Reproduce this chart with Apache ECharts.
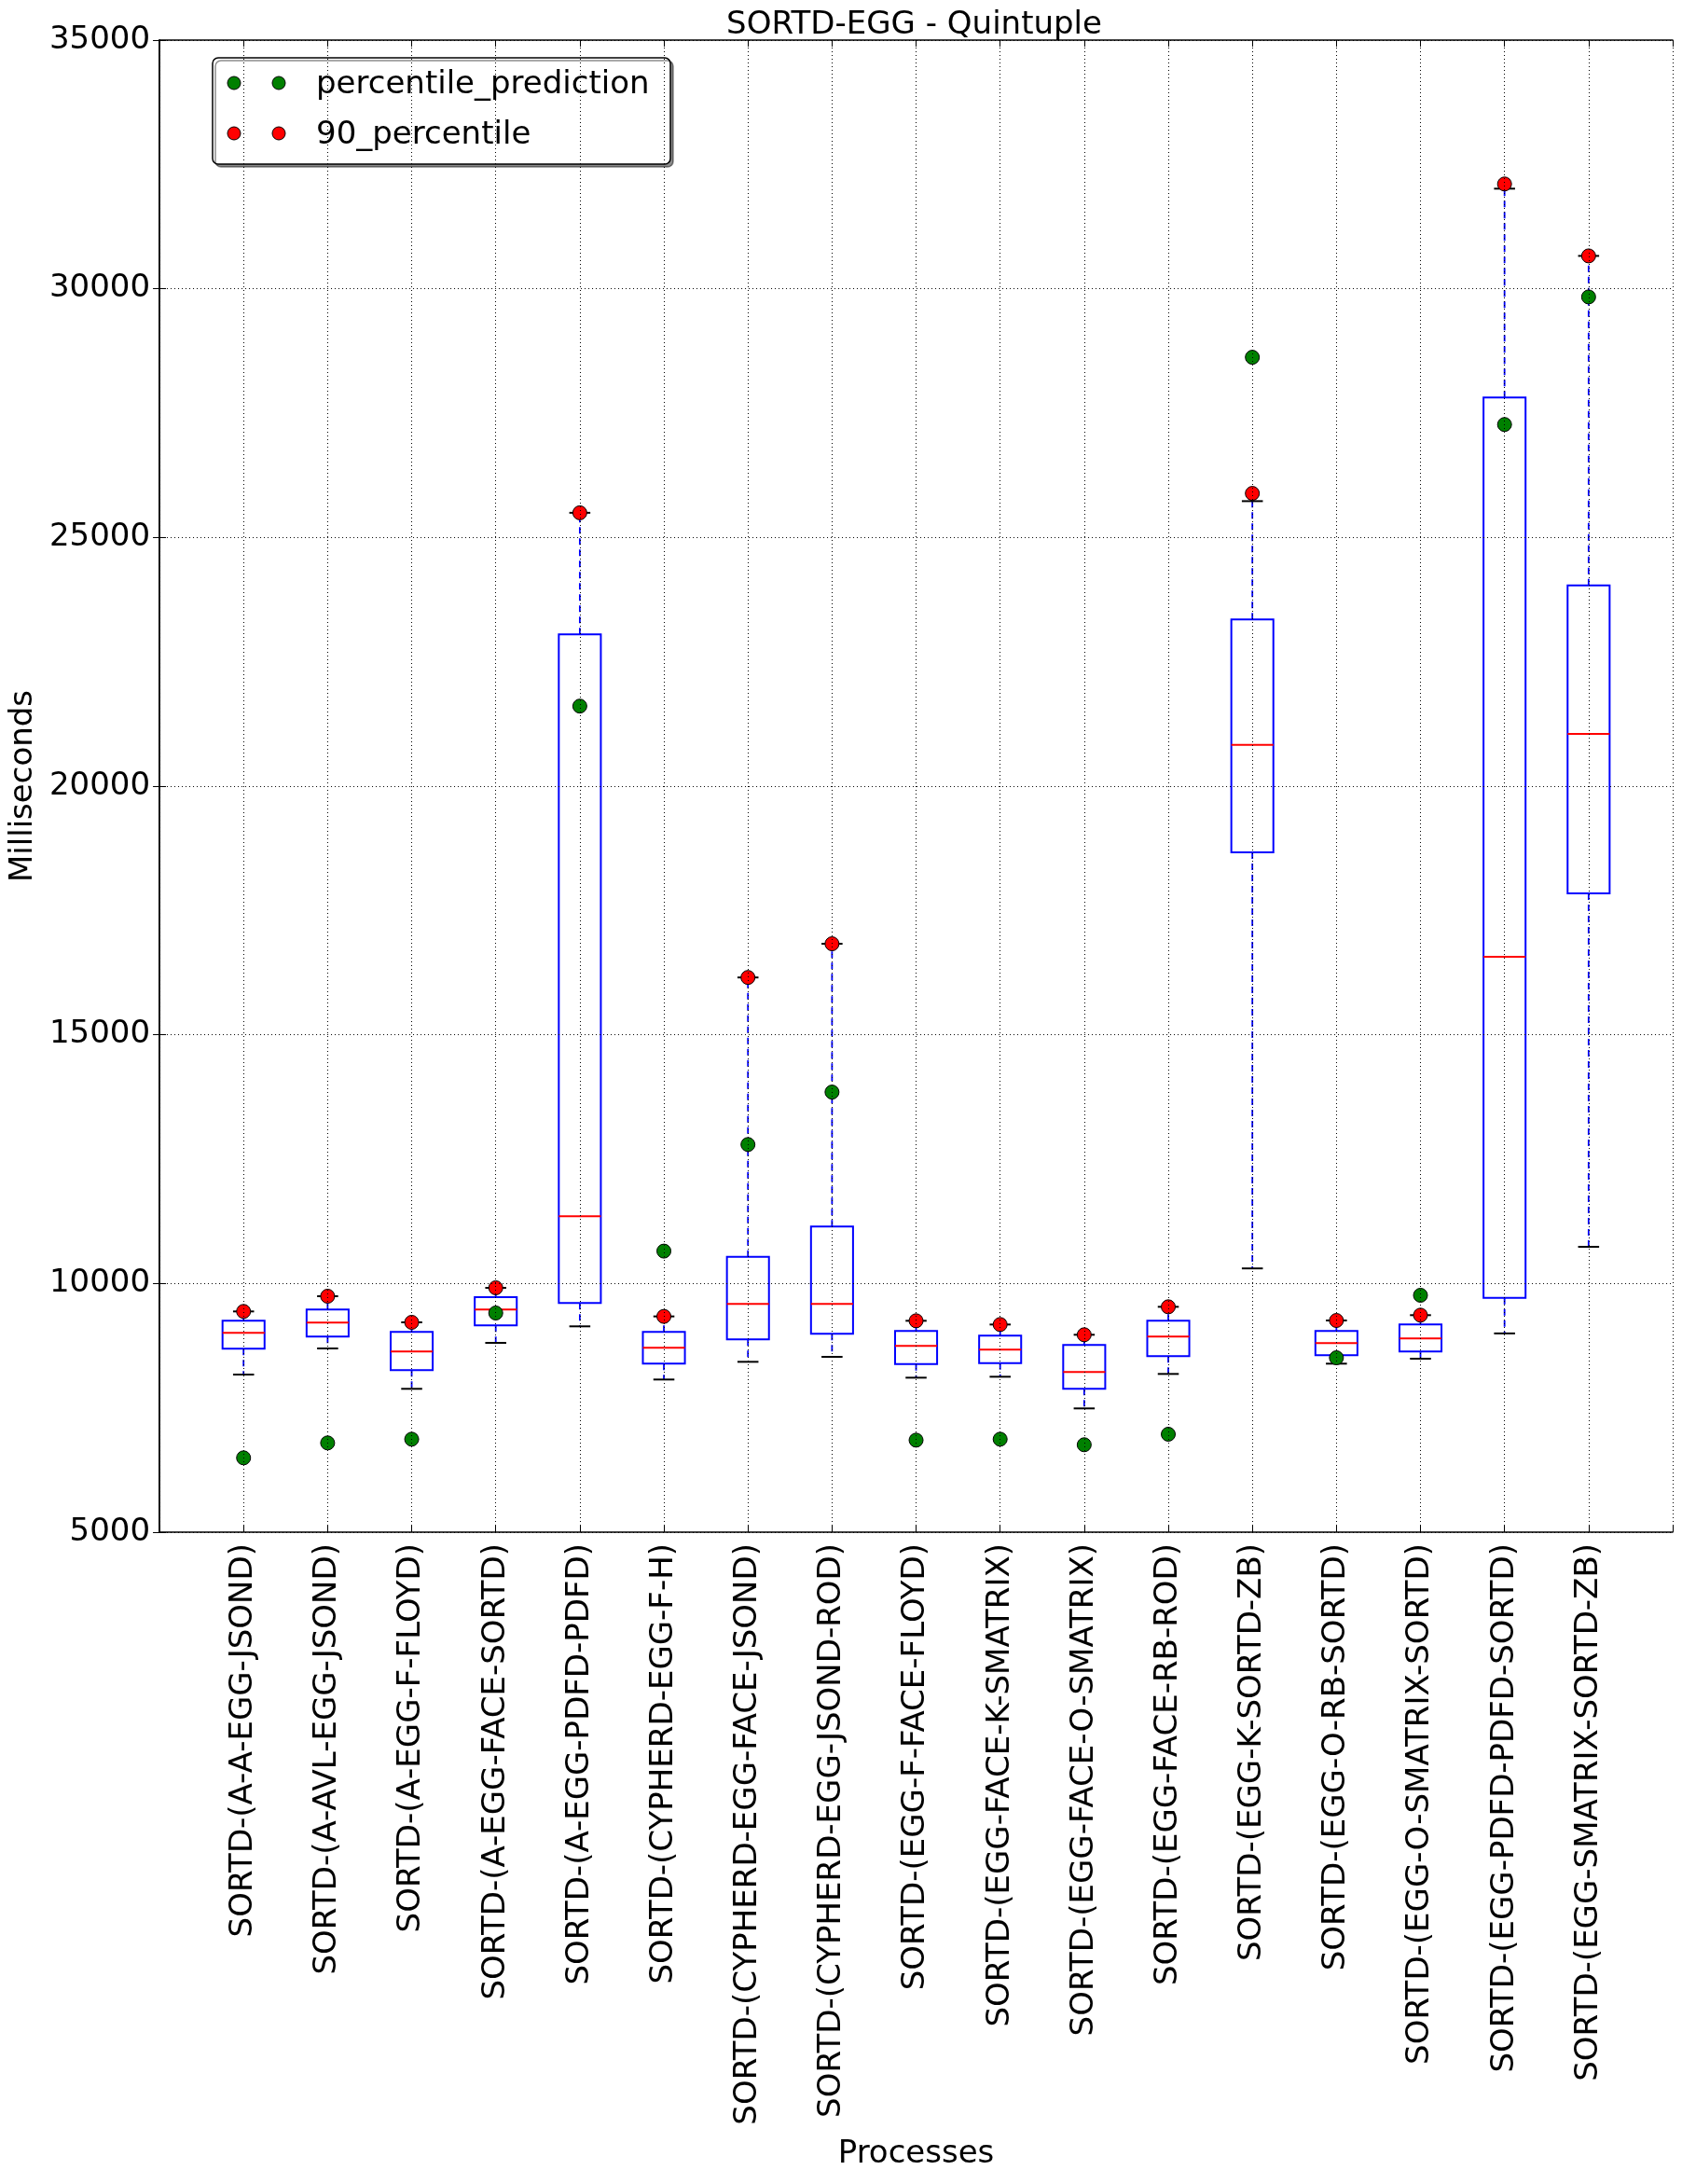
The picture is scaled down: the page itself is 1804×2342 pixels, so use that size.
<!DOCTYPE html>
<html>
<head>
<meta charset="utf-8">
<script src="https://cdn.jsdelivr.net/npm/echarts@6/dist/echarts.min.js"></script>
<style>html,body{margin:0;padding:0;background:#fff}#c{width:1804px;height:2342px}</style>
</head>
<body>
<div id="c"></div>
<script>
const categories = [
  'SORTD-(A-A-EGG-JSOND)',
  'SORTD-(A-AVL-EGG-JSOND)',
  'SORTD-(A-EGG-F-FLOYD)',
  'SORTD-(A-EGG-FACE-SORTD)',
  'SORTD-(A-EGG-PDFD-PDFD)',
  'SORTD-(CYPHERD-EGG-F-H)',
  'SORTD-(CYPHERD-EGG-FACE-JSOND)',
  'SORTD-(CYPHERD-EGG-JSOND-ROD)',
  'SORTD-(EGG-F-FACE-FLOYD)',
  'SORTD-(EGG-FACE-K-SMATRIX)',
  'SORTD-(EGG-FACE-O-SMATRIX)',
  'SORTD-(EGG-FACE-RB-ROD)',
  'SORTD-(EGG-K-SORTD-ZB)',
  'SORTD-(EGG-O-RB-SORTD)',
  'SORTD-(EGG-O-SMATRIX-SORTD)',
  'SORTD-(EGG-PDFD-PDFD-SORTD)',
  'SORTD-(EGG-SMATRIX-SORTD-ZB)'
];
const whiskerLow  = [8169, 8694, 7882, 8806, 9138, 8069, 8425, 8525, 8106, 8125, 7488, 8181, 10303, 8388, 8488, 8996, 10738];
const q1          = [8688, 8932, 8257, 9157, 9607, 8388, 8875, 8988, 8381, 8400, 7882, 8538, 18670, 8556, 8632, 9712, 17846];
const median      = [9006, 9213, 8632, 9475, 11350, 8706, 9588, 9588, 8744, 8669, 8219, 8932, 20831, 8800, 8894, 16571, 21050];
const q3          = [9250, 9475, 9025, 9725, 23050, 9025, 10538, 11144, 9044, 8950, 8763, 9250, 23351, 9044, 9175, 27815, 24035];
const whiskerHigh = [9438, 9744, 9219, 9913, 25496, 9338, 16153, 16830, 9250, 9175, 8969, 9531, 25730, 9256, 9363, 32013, 30661];
const percentile90 = [9438, 9744, 9219, 9913, 25496, 9338, 16153, 16830, 9250, 9175, 8969, 9531, 25886, 9256, 9363, 32107, 30661];
const percentilePrediction = [6494, 6794, 6869, 9406, 21609, 10651, 12794, 13848, 6850, 6869, 6757, 6969, 28623, 8506, 9763, 27271, 29836];
const yTicks = [5000, 10000, 15000, 20000, 25000, 30000, 35000];

const FONT = 'DejaVu Sans';
const boxData = categories.map((c, i) => [i + 1, whiskerLow[i], q1[i], median[i], q3[i], whiskerHigh[i]]);
const greenData = categories.map((c, i) => [i + 1, percentilePrediction[i]]);
const redData = categories.map((c, i) => [i + 1, percentile90[i]]);

function renderBox(params, api) {
  const x = api.value(0);
  const lo = api.coord([x, api.value(1)]);
  const b1 = api.coord([x, api.value(2)]);
  const md = api.coord([x, api.value(3)]);
  const b3 = api.coord([x, api.value(4)]);
  const hi = api.coord([x, api.value(5)]);
  const bw = api.size([0.5, 0])[0];
  const cw = api.size([0.25, 0])[0];
  const cx = lo[0];
  const blue = '#0000ff';
  return {
    type: 'group',
    children: [
      {type: 'line', shape: {x1: cx, y1: b3[1], x2: cx, y2: hi[1]}, style: {stroke: blue, lineWidth: 1.8, lineDash: [7, 5]}},
      {type: 'line', shape: {x1: cx, y1: b1[1], x2: cx, y2: lo[1]}, style: {stroke: blue, lineWidth: 1.8, lineDash: [7, 5]}},
      {type: 'line', shape: {x1: cx - cw / 2, y1: hi[1], x2: cx + cw / 2, y2: hi[1]}, style: {stroke: '#000', lineWidth: 2}},
      {type: 'line', shape: {x1: cx - cw / 2, y1: lo[1], x2: cx + cw / 2, y2: lo[1]}, style: {stroke: '#000', lineWidth: 2}},
      {type: 'rect', shape: {x: cx - bw / 2, y: b3[1], width: bw, height: b1[1] - b3[1]}, style: {fill: 'none', stroke: blue, lineWidth: 2}},
      {type: 'line', shape: {x1: cx - bw / 2, y1: md[1], x2: cx + bw / 2, y2: md[1]}, style: {stroke: '#ff0000', lineWidth: 2}}
    ]
  };
}

const chart = echarts.init(document.getElementById('c'), null, {renderer: 'canvas'});
const option = {
  backgroundColor: '#fff',
  animation: false,
  textStyle: {fontFamily: FONT},
  grid: {left: 167, right: 10, top: 43, bottom: 699, show: false},
  xAxis: [{
    type: 'value', min: 0, max: categories.length + 1, interval: 1, z: 5,
    name: 'Processes', nameLocation: 'middle', nameGap: 650,
    nameTextStyle: {fontSize: 34, color: '#000', fontFamily: FONT},
    axisLine: {show: true, lineStyle: {color: '#000', width: 1.5}},
    axisTick: {show: true, inside: true, length: 7, lineStyle: {color: '#000', width: 1}},
    axisLabel: {
      rotate: 90, margin: 12, fontSize: 34, color: '#000', fontFamily: FONT,
      formatter: v => (v >= 1 && v <= categories.length) ? categories[v - 1] : ''
    },
    splitLine: {show: true, lineStyle: {color: '#000', width: 1, type: [1, 3]}}
  }, {
    type: 'value', position: 'top', min: 0, max: categories.length + 1, interval: 1,
    axisLine: {show: true, lineStyle: {color: '#000', width: 1.5}},
    axisTick: {show: true, inside: true, length: 7, lineStyle: {color: '#000', width: 1}},
    axisLabel: {show: false}, splitLine: {show: false}
  }],
  yAxis: [{
    type: 'value', min: yTicks[0], max: yTicks[yTicks.length - 1], interval: yTicks[1] - yTicks[0], z: 5,
    name: 'Milliseconds', nameLocation: 'middle', nameGap: 122, nameRotate: 90,
    nameTextStyle: {fontSize: 34, color: '#000', fontFamily: FONT},
    axisLine: {show: true, lineStyle: {color: '#000', width: 1.5}},
    axisTick: {show: true, inside: true, length: 7, lineStyle: {color: '#000', width: 1}},
    axisLabel: {margin: 10, fontSize: 34, color: '#000', fontFamily: FONT, formatter: v => String(v)},
    splitLine: {show: true, lineStyle: {color: '#000', width: 1, type: [1, 3]}}
  }, {
    type: 'value', position: 'right', min: yTicks[0], max: yTicks[yTicks.length - 1], interval: yTicks[1] - yTicks[0],
    axisLine: {show: true, lineStyle: {color: '#000', width: 1.5}},
    axisTick: {show: true, inside: true, length: 7, lineStyle: {color: '#000', width: 1}},
    axisLabel: {show: false}, splitLine: {show: false}
  }],
  series: [{
    type: 'custom', name: 'box', xAxisIndex: 0, yAxisIndex: 0,
    renderItem: renderBox, data: boxData,
    encode: {x: 0, y: [1, 2, 3, 4, 5]}, z: 2
  }, {
    type: 'scatter', name: 'percentile_prediction', xAxisIndex: 0, yAxisIndex: 0,
    data: greenData, symbol: 'circle', symbolSize: 15, z: 3,
    itemStyle: {color: '#008000', borderColor: '#000', borderWidth: 1, opacity: 1}
  }, {
    type: 'scatter', name: '90_percentile', xAxisIndex: 0, yAxisIndex: 0,
    data: redData, symbol: 'circle', symbolSize: 15, z: 3,
    itemStyle: {color: '#ff0000', borderColor: '#000', borderWidth: 1, opacity: 1}
  }],
  graphic: [
    {type: 'text', x: 980.5, y: 27, z: 10,
     style: {text: 'SORTD-EGG - Quintuple', fontSize: 34, fontFamily: FONT, fill: '#000', textAlign: 'center', textVerticalAlign: 'middle'}},
    {type: 'group', z: 20, children: [
      {type: 'rect', shape: {x: 228, y: 62, width: 491, height: 114, r: 6},
       style: {fill: '#fff', stroke: '#000', lineWidth: 1.5, shadowColor: 'rgba(0,0,0,0.45)', shadowOffsetX: 3, shadowOffsetY: 3, shadowBlur: 0}},
      {type: 'circle', shape: {cx: 251, cy: 89, r: 7}, style: {fill: '#008000', stroke: '#000', lineWidth: 1}},
      {type: 'circle', shape: {cx: 299, cy: 89, r: 7}, style: {fill: '#008000', stroke: '#000', lineWidth: 1}},
      {type: 'circle', shape: {cx: 251, cy: 143, r: 7}, style: {fill: '#ff0000', stroke: '#000', lineWidth: 1}},
      {type: 'circle', shape: {cx: 299, cy: 143, r: 7}, style: {fill: '#ff0000', stroke: '#000', lineWidth: 1}},
      {type: 'text', x: 339, y: 91, style: {text: 'percentile_prediction', fontSize: 34, fontFamily: FONT, fill: '#000', textVerticalAlign: 'middle'}},
      {type: 'text', x: 339, y: 145, style: {text: '90_percentile', fontSize: 34, fontFamily: FONT, fill: '#000', textVerticalAlign: 'middle'}}
    ]}
  ]
};
chart.setOption(option);
</script>
</body>
</html>
